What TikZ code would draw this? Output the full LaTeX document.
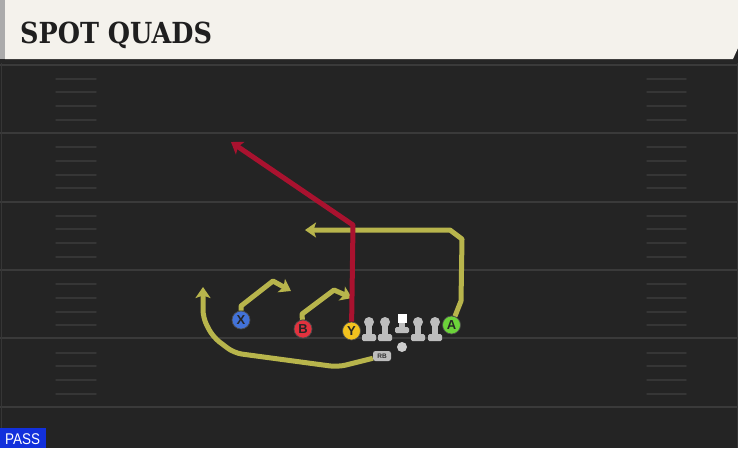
\documentclass[tikz,border=0pt]{standalone}
\usepackage{fontspec}
\newfontfamily\titlefont{DejaVu Serif}
\newfontfamily\tagfont{Liberation Sans}
\usetikzlibrary{arrows.meta}

\definecolor{fieldgray}{HTML}{242424}
\definecolor{linegray}{HTML}{3A3A3A}
\definecolor{hashgray}{HTML}{363636}
\definecolor{headcream}{HTML}{F4F2EC}
\definecolor{headgray}{HTML}{ABABAB}
\definecolor{routeyellow}{HTML}{B8B54C}
\definecolor{routered}{HTML}{A9122F}
\definecolor{xblue}{HTML}{4272D8}
\definecolor{bred}{HTML}{E2323E}
\definecolor{yyellow}{HTML}{F2C21E}
\definecolor{agreen}{HTML}{6CD33A}
\definecolor{olgray}{HTML}{BDBDBD}
\definecolor{passblue}{HTML}{1230DC}

\tikzset{
  player/.style={draw=black!70, line width=0.7pt, shape=circle, inner sep=0,
    minimum size=18pt, text=black!85,
    font=\tagfont\bfseries\fontsize{13}{13}\selectfont},
  route/.style={line width=5pt, line join=round,
    -{Stealth[length=11pt, width=15pt, inset=2.5pt]}},
  yardline/.style={draw=linegray, line width=2pt},
  hashline/.style={draw=hashgray, line width=1.5pt, line cap=round},
}

\begin{document}
\begin{tikzpicture}[x=1pt, y=-1pt]

    \useasboundingbox (0,0) rectangle (738,448);

    % Field
    \fill[fieldgray] (0,0) rectangle (738,448);
    \foreach \y in {65,133,202,270,338,407}
        \draw[yardline] (0,\y) -- (738,\y);
    \foreach \y in {79,92,106,120,147,161,175,188,216,229,243,257,284,298,312,325,353,366,380,394} {
        \draw[hashline] (56,\y) -- (96,\y);
        \draw[hashline] (647,\y) -- (686,\y);
    }
    \draw[draw=hashgray, line width=1pt] (1,63) -- (1,428);
    \draw[draw=hashgray, line width=1pt] (737,63) -- (737,448);

    % Header
    \fill[black!85] (0,58) rectangle (738,63);
    \fill[headgray] (0,0) rectangle (5,59);
    \fill[headcream] (5,0) -- (738,0) -- (738,48) -- (733,59) -- (5,59) -- cycle;
    \node[anchor=base west, inner sep=0, xscale=0.88, text=black!88,
    font=\titlefont\bfseries\fontsize{29}{29}\selectfont] (title) at (20,43) {SPOT QUADS};

    % Play type
    \fill[passblue] (0,428) rectangle (46,448);
    \node[anchor=base west, inner sep=0, xscale=0.87, text=white,
    font=\tagfont\fontsize{15.5}{15.5}\selectfont] (pass) at (5,444) {PASS};

    % Offensive line
    \foreach \x in {369,385,418,435} {
        \fill[olgray] (\x,322) circle (5);
        \fill[olgray] (\x-3,325) rectangle (\x+3,336);
        \fill[olgray, rounded corners=1.5pt] (\x-7,334) rectangle (\x+7,341);
    }
    \fill[olgray] (399,321) rectangle (405,329);
    \fill[olgray, rounded corners=1.5pt] (395,327) rectangle (409,333);
    \node[fill=white, inner sep=0, minimum size=9pt] (C) at (402,318) {};

    % Backfield
    \node[fill=olgray!75, shape=circle, inner sep=0, minimum size=10pt] (QB) at (402,347) {};
    \node[fill=olgray, rounded corners=2.5pt, inner sep=0, minimum width=18pt,
    minimum height=10pt, text=black!80, font=\tagfont\bfseries\fontsize{6.5}{6.5}\selectfont] (RB) at (382,356) {RB};

    % Receivers
    \node[player, fill=xblue] (X) at (241,320) {X};
    \node[player, fill=bred] (B) at (303,329) {B};
    \node[player, fill=yyellow] (Y) at (351.5,331) {Y};
    \node[player, fill=agreen] (A) at (451.5,325) {A};

    % Route points
    \coordinate (x1) at (241,306);
    \coordinate (x2) at (273,281);
    \coordinate (xend) at (291,291);
    \coordinate (b1) at (302,314);
    \coordinate (b2) at (334,290);
    \coordinate (bend) at (352,298);
    \coordinate (a1) at (461,301);
    \coordinate (a2) at (462,239);
    \coordinate (a3) at (450,230);
    \coordinate (aend) at (305,230);
    \coordinate (ycut) at (353,225);
    \coordinate (yend) at (231,142);
    \coordinate (rb1) at (338,367);
    \coordinate (rb2) at (234,353);
    \coordinate (rb3) at (213,337);
    \coordinate (rb4) at (203,318);
    \coordinate (rbend) at (203,287);

    % Routes
    \draw[route, draw=routeyellow] (X) -- (x1) -- (x2) -- (xend);
    \draw[route, draw=routeyellow] (B) -- (b1) -- (b2) -- (bend);
    \draw[route, draw=routeyellow] (A) -- (a1) -- (a2) -- (a3) -- (aend);
    \draw[route, draw=routeyellow, rounded corners=8pt] (RB) -- (rb1) -- (rb2) -- (rb3) -- (rb4) -- (rbend);
    \draw[route, draw=routered] (Y) -- (ycut) -- (yend);

\end{tikzpicture}
\end{document}
